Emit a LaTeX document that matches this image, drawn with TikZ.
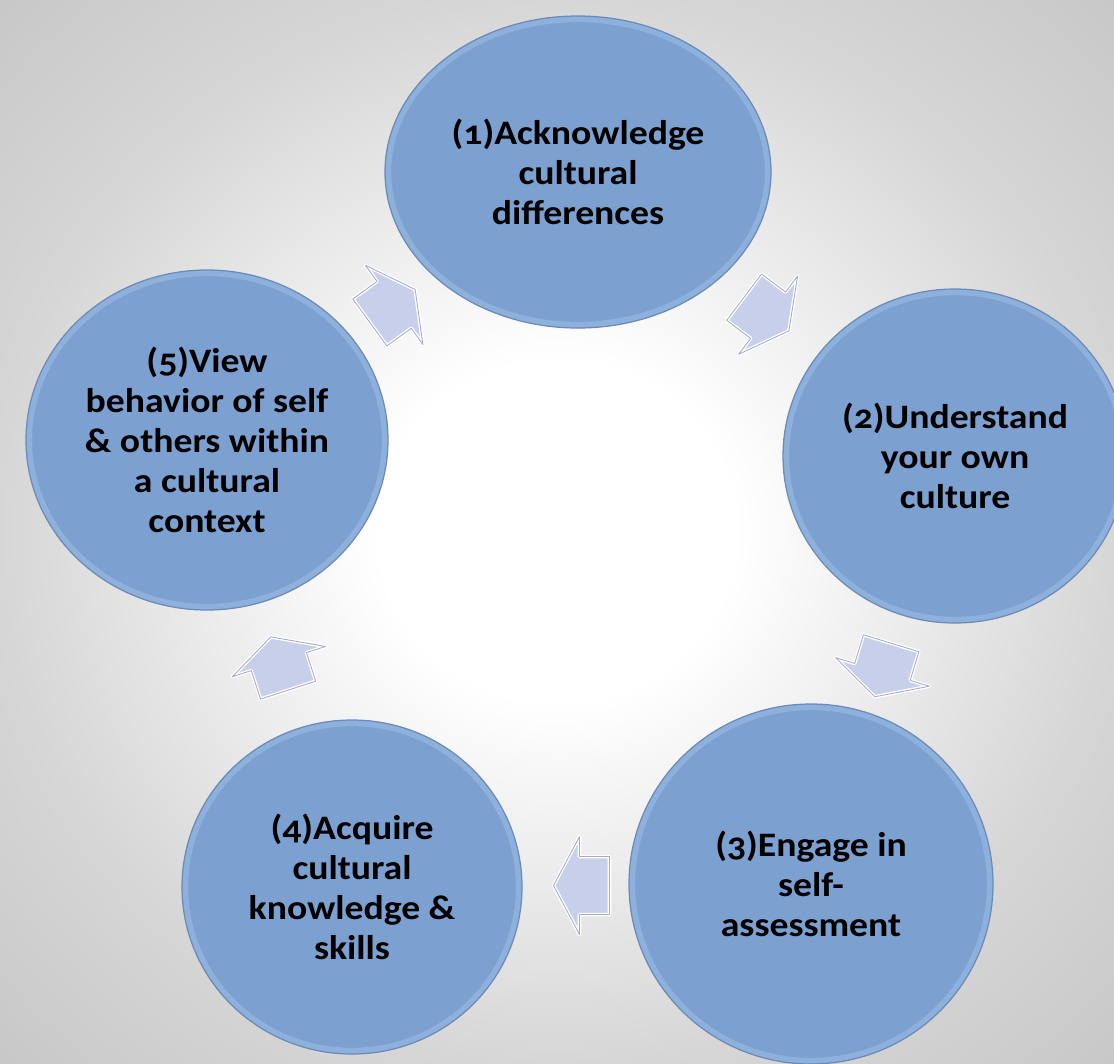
\documentclass[tikz,border=0pt]{standalone}
\usepackage{fontspec}
\setmainfont{Carlito}[Numbers=OldStyle,FakeStretch=1.1]
\usetikzlibrary{calc,shapes.geometric}

\definecolor{stepblue}{RGB}{124,160,208}
\definecolor{steprim}{RGB}{108,138,180}
\definecolor{stepglow}{RGB}{146,180,224}
\definecolor{arrowfill}{RGB}{200,207,234}
\definecolor{arrowrim}{RGB}{165,172,200}
\colorlet{bgedge}{black!16}
\colorlet{bgcorner}{black!22}
\pgfdeclareradialshading{bgglow}{\pgfpoint{0bp}{0bp}}%
  {color(0bp)=(white); color(8bp)=(white); color(25bp)=(bgedge);
   color(36bp)=(bgcorner); color(50bp)=(bgcorner)}
\newcommand\stepfont{\fontsize{19.5}{22.8}\selectfont\bfseries}

\tikzset{
  stepnode/.style={ellipse,fill=stepblue,draw=steprim,line width=0.7pt,
    inner sep=0pt,align=center,font=\stepfont,
    path picture={
      \draw[stepglow,line width=7pt,opacity=0.8]
        let \p1=($(path picture bounding box.north east)-(path picture bounding box.center)$)
        in (path picture bounding box.center) ellipse [x radius=\x1,y radius=\y1];
    }},
  pics/cyclearrow/.style={code={
    \path[fill=arrowfill,draw=white,line width=2pt,line join=round]
      (-28,-29) -- (2,-29) -- (2,-49) -- (28,0) -- (2,49) -- (2,29) -- (-28,29) -- cycle;
    \draw[arrowrim,line width=0.5pt,line join=round]
      (-28,-29) -- (2,-29) -- (2,-49) -- (28,0) -- (2,49) -- (2,29) -- (-28,29) -- cycle;
  }}
}

\begin{document}
\begin{tikzpicture}[x=0.2mm,y=-0.2mm]
  \shade[shading=bgglow] (0,0) rectangle (1114,1063);
  \useasboundingbox (0,0) rectangle (1114,1063);
  \clip (0,0) rectangle (1114,1063);

  % the five stages
  \node[stepnode,minimum width=77.2mm,minimum height=62.4mm] (c1) at (578,172)
    {(1)Acknowledge\\cultural\\differences};
  \node[stepnode,minimum width=68.8mm,minimum height=66.8mm] (c2) at (955,456)
    {(2)Understand\\your own\\culture};
  \node[stepnode,minimum width=72.8mm,minimum height=72mm] (c3) at (811,884)
    {(3)Engage in\\self-\\assessment};
  \node[stepnode,minimum width=68mm,minimum height=66.8mm] (c4) at (352,887)
    {(4)Acquire\\cultural\\knowledge \&\\skills};
  \node[stepnode,minimum width=72.4mm,minimum height=68mm] (c5) at (207,440)
    {(5)View\\behavior of self\\\& others within\\a cultural\\context};

  % block arrows half way between the stages
  \foreach \from/\to/\ang in {c1/c2/-37,c2/c3/-107,c3/c4/180,c4/c5/108,c5/c1/36}
    \pic[rotate=\ang] at ($(\from)!0.5!(\to)$) {cyclearrow};
\end{tikzpicture}
\end{document}
